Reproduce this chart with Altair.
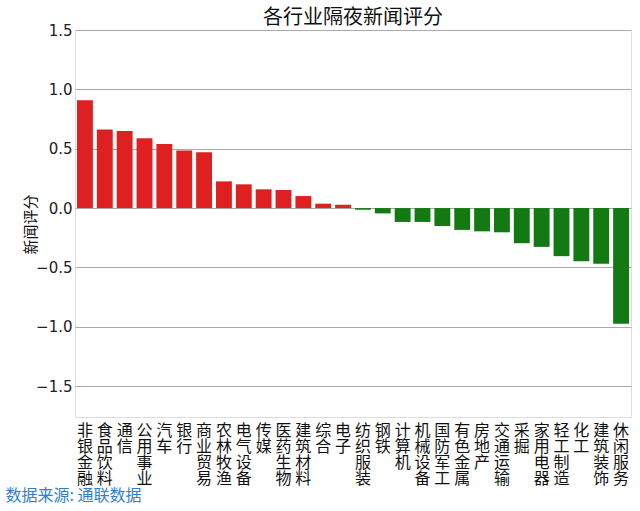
import altair as alt
import pandas as pd

industries = ["非银金融", "食品饮料", "通信", "公用事业", "汽车", "银行", "商业贸易",
              "农林牧渔", "电气设备", "传媒", "医药生物", "建筑材料", "综合", "电子",
              "纺织服装", "钢铁", "计算机", "机械设备", "国防军工", "有色金属", "房地产",
              "交通运输", "采掘", "家用电器", "轻工制造", "化工", "建筑装饰", "休闲服务"]
scores = [0.909, 0.661, 0.650, 0.588, 0.540, 0.484, 0.470,
          0.225, 0.200, 0.158, 0.152, 0.101, 0.037, 0.028,
          -0.014, -0.045, -0.117, -0.117, -0.151, -0.184, -0.196,
          -0.204, -0.296, -0.327, -0.405, -0.447, -0.469, -0.975]
y_ticks = [-1.5, -1.0, -0.5, 0.0, 0.5, 1.0, 1.5]

df = pd.DataFrame({"industry": industries, "score": scores})

CJK = "DejaVu Sans, Noto Sans CJK SC"

chart = alt.Chart(df).mark_bar().encode(
    x=alt.X("industry:N", sort=industries,
            scale=alt.Scale(paddingInner=0.2, paddingOuter=0.1),
            axis=alt.Axis(title="数据来源: 通联数据", labelAngle=0,
                          labelExpr="split(datum.label, '')",
                          labelFont="Noto Sans CJK SC", labelFontSize=16,
                          labelLineHeight=16, labelColor="#111111",
                          labelBaseline="top", labelPadding=5,
                          ticks=False, domain=False, grid=False,
                          titleFont="Noto Sans CJK SC", titleFontSize=16,
                          titleFontWeight="normal", titleColor="#2F7FD0",
                          titleAlign="left", titleBaseline="middle",
                          titleAnchor="start", titleX=-70, titleY=78)),
    y=alt.Y("score:Q",
            scale=alt.Scale(domain=[-1.76, 1.5], nice=False, zero=False),
            axis=alt.Axis(title="新闻评分", values=y_ticks, format=".1f",
                          labelFont=CJK, labelFontSize=15, labelColor="#222222",
                          labelPadding=3, ticks=False, domain=False,
                          grid=True, gridColor="#aaaaaa", gridWidth=1,
                          titleFont="Noto Sans CJK SC", titleFontSize=15,
                          titleFontWeight="normal", titleColor="#111111",
                          titleX=-45, titleY=194, titleAngle=-90,
                          titleAlign="center", titleBaseline="middle")),
    color=alt.condition("datum.score > 0", alt.value("#DE2021"), alt.value("#137A13")),
).properties(
    width=556, height=387,
    title=alt.TitleParams("各行业隔夜新闻评分", font="Noto Sans CJK SC",
                          fontSize=20, fontWeight="normal", color="#111111",
                          anchor="middle", offset=4, dy=9),
    autosize=alt.AutoSizeParams(type="none"),
    padding={"left": 75, "top": 30, "right": 9, "bottom": 94},
).configure_view(
    stroke="#222222", strokeWidth=1.2
).configure(background="white")

chart.save("out.html", embed_options={"renderer": "svg", "actions": False})
